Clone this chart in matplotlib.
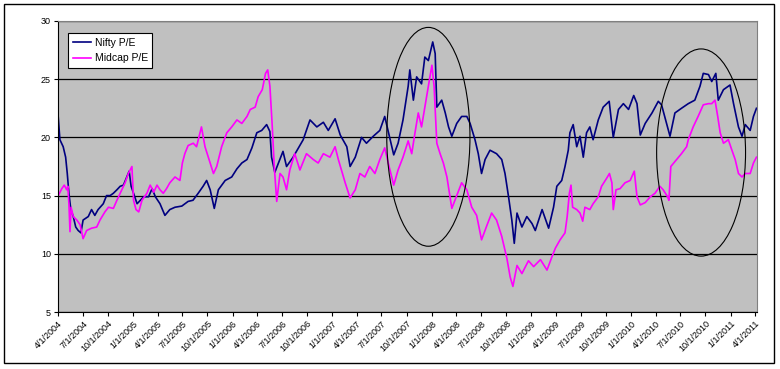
import numpy as np
import pandas as pd
import matplotlib
matplotlib.use('Agg')
import matplotlib.pyplot as plt
import matplotlib.dates as mdates
from matplotlib.patches import Ellipse, Rectangle
from matplotlib.ticker import FuncFormatter

plt.rcParams['font.family'] = ['Liberation Sans', 'DejaVu Sans']

# Nifty P/E readings (date, value) taken off the chart
nifty_dates = [
    '2004-04-02', '2004-04-08', '2004-04-20', '2004-04-29', '2004-05-05', '2004-05-11',
    '2004-05-18', '2004-05-27', '2004-06-05', '2004-06-14', '2004-06-24', '2004-07-02',
    '2004-07-21', '2004-08-02', '2004-08-14', '2004-08-26', '2004-09-14', '2004-09-26',
    '2004-10-09', '2004-10-21', '2004-11-03', '2004-11-15', '2004-11-27', '2004-12-09',
    '2004-12-18', '2004-12-25', '2005-01-03', '2005-01-16', '2005-01-28', '2005-02-09',
    '2005-02-27', '2005-03-12', '2005-03-24', '2005-04-10', '2005-04-28', '2005-05-16',
    '2005-06-04', '2005-06-29', '2005-07-22', '2005-08-09', '2005-08-28', '2005-09-15',
    '2005-09-28', '2005-10-11', '2005-10-26', '2005-11-10', '2005-12-05', '2005-12-29',
    '2006-01-17', '2006-02-04', '2006-02-23', '2006-03-13', '2006-03-31', '2006-04-18',
    '2006-05-06', '2006-05-18', '2006-05-24', '2006-06-05', '2006-07-05', '2006-07-18',
    '2006-08-11', '2006-09-17', '2006-10-12', '2006-11-06', '2006-11-30', '2006-12-18',
    '2007-01-12', '2007-01-31', '2007-02-24', '2007-03-08', '2007-03-27', '2007-04-19',
    '2007-05-07', '2007-06-01', '2007-06-25', '2007-07-13', '2007-07-25', '2007-08-15',
    '2007-08-31', '2007-09-18', '2007-10-07', '2007-10-13', '2007-10-26', '2007-11-07',
    '2007-11-25', '2007-12-07', '2007-12-20', '2008-01-05', '2008-01-14', '2008-01-20',
    '2008-02-07', '2008-02-20', '2008-03-03', '2008-03-15', '2008-04-02', '2008-04-20',
    '2008-05-09', '2008-05-21', '2008-06-08', '2008-06-20', '2008-07-02', '2008-07-15',
    '2008-08-02', '2008-08-26', '2008-09-14', '2008-09-26', '2008-10-09', '2008-10-21',
    '2008-10-30', '2008-11-09', '2008-11-27', '2008-12-15', '2009-01-03', '2009-01-15',
    '2009-02-09', '2009-03-05', '2009-03-23', '2009-04-04', '2009-04-22', '2009-05-04',
    '2009-05-16', '2009-05-22', '2009-06-03', '2009-06-16', '2009-06-28', '2009-07-10',
    '2009-07-22', '2009-08-03', '2009-08-15', '2009-09-03', '2009-09-21', '2009-10-13',
    '2009-10-28', '2009-11-16', '2009-12-04', '2009-12-23', '2010-01-11', '2010-01-23',
    '2010-02-04', '2010-02-22', '2010-03-19', '2010-04-11', '2010-04-23', '2010-05-24',
    '2010-06-11', '2010-07-05', '2010-07-30', '2010-08-23', '2010-09-11', '2010-09-23',
    '2010-10-12', '2010-10-24', '2010-11-08', '2010-11-17', '2010-12-06', '2010-12-30',
    '2011-01-12', '2011-01-30', '2011-02-12', '2011-02-24', '2011-03-14', '2011-03-26',
    '2011-04-06',
]
nifty_pe = [
    21.7, 19.8, 19.2, 18.3, 16.9, 15.2,
    13.8, 13.2, 12.3, 12.0, 11.8, 12.9,
    13.2, 13.8, 13.3, 13.8, 14.3, 15.0,
    15.0, 15.2, 15.5, 15.8, 15.9, 16.6,
    17.1, 15.8, 15.2, 14.3, 14.6, 14.9,
    14.9, 15.6, 14.9, 14.3, 13.3, 13.8,
    14.0, 14.1, 14.5, 14.6, 15.2, 15.8,
    16.3, 15.5, 13.9, 15.5, 16.3, 16.6,
    17.3, 17.8, 18.1, 19.1, 20.4, 20.6,
    21.1, 20.5, 18.3, 17.0, 18.8, 17.5,
    18.3, 19.8, 21.5, 20.9, 21.3, 20.6,
    21.6, 20.2, 19.2, 17.5, 18.3, 20.0,
    19.5, 20.1, 20.6, 21.8, 20.6, 18.5,
    19.5, 21.5, 24.4, 25.8, 23.2, 25.2,
    24.6, 26.9, 26.6, 28.2, 27.2, 22.6,
    23.2, 22.1, 20.9, 20.1, 21.2, 21.8,
    21.8, 21.2, 19.8, 18.6, 16.9, 18.1,
    18.9, 18.6, 18.1, 16.9, 14.9, 12.9,
    10.9, 13.5, 12.3, 13.2, 12.6, 12.0,
    13.8, 12.2, 14.0, 15.8, 16.3, 17.5,
    18.9, 20.4, 21.1, 19.2, 20.1, 18.3,
    20.4, 20.9, 19.8, 21.5, 22.6, 23.1,
    20.0, 22.4, 22.9, 22.4, 23.6, 22.9,
    20.2, 21.2, 22.1, 23.1, 22.8, 20.1,
    22.1, 22.5, 22.9, 23.2, 24.4, 25.5,
    25.4, 24.8, 25.5, 23.2, 24.1, 24.5,
    22.9, 20.9, 20.1, 21.1, 20.6, 21.8,
    22.5,
]

# Midcap P/E readings
midcap_dates = [
    '2004-04-02', '2004-04-15', '2004-04-24', '2004-05-03', '2004-05-07', '2004-05-11',
    '2004-05-15', '2004-05-19', '2004-05-27', '2004-06-09', '2004-06-21', '2004-07-02',
    '2004-07-15', '2004-08-02', '2004-08-21', '2004-09-02', '2004-09-20', '2004-10-03',
    '2004-10-21', '2004-11-03', '2004-11-15', '2004-12-03', '2004-12-15', '2004-12-28',
    '2005-01-03', '2005-01-12', '2005-01-22', '2005-02-03', '2005-02-21', '2005-03-05',
    '2005-03-18', '2005-03-30', '2005-04-10', '2005-04-22', '2005-05-04', '2005-05-16',
    '2005-06-04', '2005-06-22', '2005-07-01', '2005-07-10', '2005-07-22', '2005-08-10',
    '2005-08-22', '2005-09-09', '2005-09-22', '2005-10-04', '2005-10-23', '2005-11-04',
    '2005-11-22', '2005-12-11', '2005-12-29', '2006-01-17', '2006-02-04', '2006-02-23',
    '2006-03-07', '2006-03-25', '2006-04-05', '2006-04-20', '2006-05-02', '2006-05-10',
    '2006-05-18', '2006-05-26', '2006-06-03', '2006-06-12', '2006-06-24', '2006-07-05',
    '2006-07-18', '2006-07-30', '2006-08-17', '2006-09-05', '2006-09-29', '2006-10-24',
    '2006-11-11', '2006-11-30', '2006-12-24', '2007-01-12', '2007-01-24', '2007-02-18',
    '2007-03-08', '2007-03-27', '2007-04-13', '2007-05-01', '2007-05-19', '2007-06-07',
    '2007-06-25', '2007-07-13', '2007-07-29', '2007-08-15', '2007-08-31', '2007-09-18',
    '2007-10-07', '2007-10-20', '2007-11-01', '2007-11-13', '2007-11-25', '2007-12-07',
    '2007-12-20', '2008-01-02', '2008-01-10', '2008-01-20', '2008-02-01', '2008-02-13',
    '2008-02-26', '2008-03-15', '2008-04-02', '2008-04-20', '2008-05-09', '2008-05-27',
    '2008-06-14', '2008-07-02', '2008-07-21', '2008-08-08', '2008-08-26', '2008-09-14',
    '2008-10-03', '2008-10-15', '2008-10-25', '2008-11-09', '2008-11-27', '2008-12-21',
    '2009-01-09', '2009-02-03', '2009-02-27', '2009-03-18', '2009-03-30', '2009-04-16',
    '2009-05-04', '2009-05-12', '2009-05-20', '2009-05-26', '2009-06-01', '2009-06-16',
    '2009-06-28', '2009-07-08', '2009-07-16', '2009-08-03', '2009-08-15', '2009-09-03',
    '2009-09-15', '2009-10-04', '2009-10-14', '2009-10-23', '2009-10-28', '2009-11-07',
    '2009-11-22', '2009-12-10', '2009-12-29', '2010-01-13', '2010-01-23', '2010-02-04',
    '2010-02-22', '2010-03-13', '2010-03-30', '2010-04-17', '2010-04-29', '2010-05-15',
    '2010-05-20', '2010-05-27', '2010-06-17', '2010-07-05', '2010-07-24', '2010-07-30',
    '2010-08-17', '2010-09-04', '2010-09-23', '2010-10-12', '2010-10-24', '2010-11-05',
    '2010-11-15', '2010-11-24', '2010-12-06', '2010-12-24', '2011-01-06', '2011-01-18',
    '2011-01-30', '2011-02-12', '2011-02-24', '2011-03-14', '2011-03-26', '2011-04-06',
]
midcap_pe = [
    15.0, 15.6, 15.9, 15.5, 15.8, 14.3,
    11.9, 14.0, 13.2, 12.9, 12.5, 11.3,
    12.0, 12.2, 12.3, 12.9, 13.6, 14.0,
    13.9, 14.6, 15.2, 16.1, 16.9, 17.5,
    14.6, 13.8, 13.6, 14.6, 15.2, 15.9,
    15.3, 15.9, 15.5, 15.2, 15.6, 16.1,
    16.6, 16.3, 17.8, 18.6, 19.3, 19.5,
    19.2, 20.9, 19.2, 18.3, 16.9, 17.5,
    19.2, 20.4, 20.9, 21.5, 21.2, 21.8,
    22.4, 22.6, 23.5, 24.1, 25.5, 25.8,
    24.4, 21.2, 17.5, 14.5, 16.9, 16.6,
    15.5, 17.2, 18.6, 17.2, 18.6, 18.1,
    17.8, 18.6, 18.3, 19.2, 18.1, 16.1,
    14.8, 15.5, 16.9, 16.6, 17.5, 16.9,
    18.1, 19.1, 17.5, 15.9, 17.2, 18.3,
    19.7, 18.6, 20.4, 22.1, 20.9, 22.6,
    24.4, 26.2, 24.4, 19.5, 18.6, 17.8,
    16.6, 13.9, 15.0, 16.1, 15.5, 14.0,
    13.3, 11.2, 12.4, 13.5, 12.9, 11.5,
    9.6, 8.0, 7.2, 9.0, 8.3, 9.4,
    8.9, 9.5, 8.6, 9.8, 10.5, 11.2,
    11.8, 13.2, 15.2, 15.9, 14.0, 13.8,
    13.5, 12.8, 14.0, 13.8, 14.3, 14.9,
    15.8, 16.5, 16.9, 16.1, 13.8, 15.5,
    15.6, 16.1, 16.3, 17.1, 14.9, 14.2,
    14.4, 14.9, 15.2, 15.8, 15.5, 14.9,
    14.6, 17.5, 18.1, 18.6, 19.2, 19.8,
    20.9, 21.8, 22.8, 22.9, 22.9, 23.2,
    21.8, 20.4, 19.5, 19.8, 18.9, 18.1,
    16.9, 16.6, 16.9, 16.9, 17.8, 18.3,
]

series_labels = ['Nifty P/E', 'Midcap P/E']
y_ticks = [5, 10, 15, 20, 25, 30]
x_start, x_end = '2004-04-01', '2011-04-08'

# hand drawn ellipses highlighting the two periods (center date, center value, width days, height)
ellipse_specs = [
    ('2007-12-20', 20.05, 305, 18.8),
    ('2010-09-15', 18.7, 326, 17.8),
]

nifty = pd.Series(nifty_pe, index=pd.to_datetime(nifty_dates))
midcap = pd.Series(midcap_pe, index=pd.to_datetime(midcap_dates))

W, H = 780, 369
fig = plt.figure(figsize=(W / 100, H / 100), dpi=100)
fig.patch.set_facecolor('white')
ax = fig.add_axes([58 / W, 1 - 312 / H, (757 - 58) / W, (312 - 21) / H])
ax.set_facecolor('#C0C0C0')

ax.plot(nifty.index, nifty.values, color='#000080', lw=1.2, label=series_labels[0])
ax.plot(midcap.index, midcap.values, color='#FF00FF', lw=1.2, label=series_labels[1])

for c, v, w, h in ellipse_specs:
    ax.add_patch(Ellipse((mdates.date2num(pd.Timestamp(c)), v), w, h,
                         fill=False, ec='black', lw=0.8, zorder=4))

ax.set_ylim(5, 30)
ax.set_yticks(y_ticks)
ax.set_xlim(pd.Timestamp(x_start), pd.Timestamp(x_end))
ax.xaxis.set_major_locator(mdates.MonthLocator(bymonth=[1, 4, 7, 10]))
ax.xaxis.set_major_formatter(FuncFormatter(
    lambda x, pos: (lambda d: f'{d.month}/{d.day}/{d.year}')(mdates.num2date(x))))

ax.yaxis.grid(True, color='black', lw=0.9)
ax.set_axisbelow(True)

for s in ['top', 'right']:
    ax.spines[s].set_color('#808080')
for s in ['left', 'bottom']:
    ax.spines[s].set_color('black')

ax.tick_params(axis='both', direction='out', length=3, width=0.8, labelsize=6.5, pad=2)
plt.setp(ax.get_xticklabels(), rotation=45, ha='right', rotation_mode='anchor')

leg = ax.legend(loc='upper left', bbox_to_anchor=(10 / 699, 1 - 12 / 291),
                fontsize=7.5, frameon=True, fancybox=False, borderaxespad=0,
                handlelength=1.8, handletextpad=0.3, borderpad=0.45, labelspacing=0.55)
leg.get_frame().set_edgecolor('black')
leg.get_frame().set_linewidth(0.8)
leg.get_frame().set_facecolor('white')
leg.get_frame().set_alpha(1)

# outer chart border
fig.add_artist(Rectangle((4 / W, 1 - 363 / H), 770 / W, 359 / H, transform=fig.transFigure,
                         fill=False, ec='black', lw=1))

fig.savefig('out.png', dpi=100)
